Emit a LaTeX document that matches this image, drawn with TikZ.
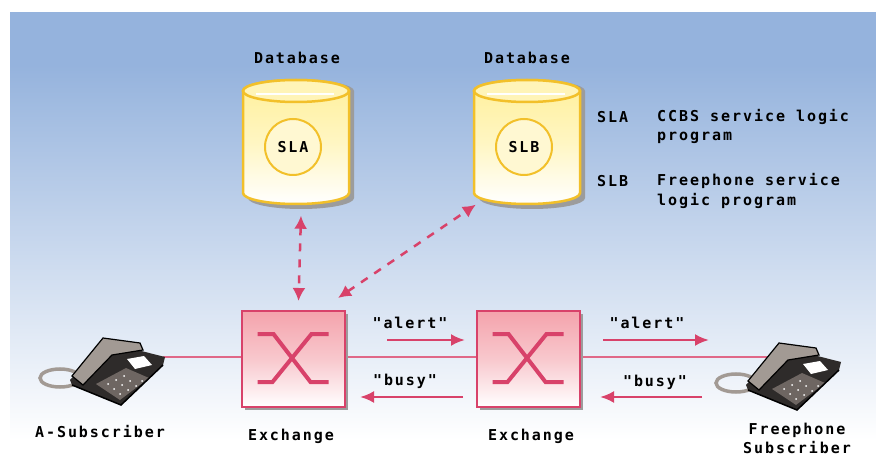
\documentclass[tikz,border=0pt]{standalone}
\usepackage{fontspec}
\newfontfamily\pixfont[LetterSpace=13]{DejaVu Sans Mono Bold}
\usetikzlibrary{arrows.meta,calc,shadows}

\definecolor{skyblue}{HTML}{95B3DD}
\definecolor{crimson}{HTML}{D8426A}
\definecolor{switchpink}{HTML}{F4A3AC}
\definecolor{dbyellow}{HTML}{FFF09A}
\definecolor{dbedge}{HTML}{F2C02A}
\definecolor{shadowgray}{HTML}{9C9C9C}
\definecolor{cordgray}{HTML}{A29A94}
\definecolor{phonedark}{HTML}{2E2B2A}
\definecolor{phonemid}{HTML}{6E6662}

\tikzset{
  lbl/.style={font=\pixfont\fontsize{15}{17}\selectfont, inner sep=0pt, text=black},
  legend/.style={lbl, anchor=west},
  exchange/.style={draw=crimson, line width=2pt, minimum width=103pt, minimum height=96pt,
    top color=switchpink, bottom color=white, middle color=switchpink!60,
    drop shadow={shadow xshift=3pt, shadow yshift=-3pt, fill=shadowgray, opacity=1}},
  dbframe/.style={minimum width=106pt, minimum height=125pt, inner sep=0pt},
  ring/.style={circle, draw=dbedge, line width=2pt, minimum size=56pt, inner sep=0pt,
    fill=dbyellow!45, font=\pixfont\fontsize{15}{17}\selectfont},
  wire/.style={crimson!80, line width=1.8pt},
  msg/.style={crimson, line width=2.5pt, -{Latex[length=14pt,width=12pt]}},
  dbquery/.style={crimson, line width=2.5pt, dash pattern=on 8pt off 8pt,
    {Latex[length=13pt,width=13pt]}-{Latex[length=13pt,width=13pt]}},
  % a database drawn as a cylinder around the origin
  pics/dbcyl/.style={code={
    \fill[shadowgray] (-48,-51) -- (-48,56) arc[start angle=180,end angle=0,x radius=53,y radius=11]
      -- (58,-51) arc[start angle=0,end angle=-180,x radius=53,y radius=11] -- cycle;
    \path[top color=dbyellow, bottom color=white, middle color=dbyellow!60, draw=dbedge, line width=2.5pt]
      (-53,-51) -- (-53,51) arc[start angle=180,end angle=0,x radius=53,y radius=11]
      -- (53,-51) arc[start angle=0,end angle=-180,x radius=53,y radius=11] -- cycle;
    \draw[dbedge, line width=2.5pt, fill=dbyellow!70] (0,-51) ellipse[x radius=53, y radius=11];
    \draw[white, line width=1.2pt] (-40,-48) -- (38,-48);
  }},
  % switching symbol inside an exchange
  pics/switchx/.style={code={
    \draw[crimson, line width=4pt, line join=miter]
      (-36,-25) -- (-20,-25) -- (17,23) -- (35,23)
      (35,-25) -- (18,-25) -- (-21,23) -- (-36,23);
  }},
  % desk telephone with its coiled cord
  pics/phone/.style={code={
    \draw[cordgray, line width=3.5pt] (-58,6) ellipse[x radius=20, y radius=9];
    \fill[phonedark] (-48,8) -- (-12,-30) -- (47,-15) -- (45,-7) -- (3,33) -- (-46,13) -- cycle;
    \fill[phonemid] (-22,12) -- (8,-4) -- (31,6) -- (2,28) -- cycle;
    \foreach \p in {(-10,12),(-2,8),(6,4),(-4,17),(4,13),(12,9),(2,22),(10,18),(18,14),(24,9)}
      \fill[white] \p circle[radius=1pt];
    \draw[black, line width=1.2pt, fill=cordgray]
      (-46,4) -- (-15,-34) -- (22,-29) -- (25,-22) -- (-6,-17) -- (-35,13) -- cycle;
    \fill[white] (9,-13) -- (26,-16) -- (34,-7) -- (17,-3) -- cycle;
    \draw[black, line width=1.5pt] (-46,13) -- (3,33) -- (45,-7);
  }}
}

\begin{document}
\begin{tikzpicture}[x=1pt,y=-1pt]
  \useasboundingbox (0,0) rectangle (876,457);

  % sky background fading towards the bottom
  \fill[skyblue] (10,12) rectangle (876,65);
  \shade[top color=skyblue, middle color=skyblue!52, bottom color=white] (10,65) rectangle (876,440);

  % databases
  \pic at (296,142) {dbcyl};
  \pic at (527,142) {dbcyl};
  \node[dbframe] (dbA) at (296,142) {};
  \node[dbframe] (dbB) at (527,142) {};
  \node[ring] (slA) at (293,147) {SLA};
  \node[ring] (slB) at (524,147) {SLB};
  \node[lbl] (dbAlbl) at (297,58) {Database};
  \node[lbl] (dbBlbl) at (527,58) {Database};

  % legend
  \node[legend] (kA) at (597,117) {SLA};
  \node[legend] (kAt1) at (657,117) {CCBS service logic};
  \node[legend] (kAt2) at (657,138) {program};
  \node[legend] (kB) at (597,181) {SLB};
  \node[legend] (kBt1) at (657,181) {Freephone service};
  \node[legend] (kBt2) at (657,201) {logic program};

  % subscriber line
  \coordinate (jackA) at (163,357);
  \coordinate (jackB) at (772,357);
  \draw[wire] (jackA) -- (jackB);

  % telephones
  \pic at (118,372) {phone};
  \pic at (794,377) {phone};
  \node[lbl] (subA) at (100,432) {A-Subscriber};
  \node[lbl, align=center] (subB) at (797,438) {Freephone\\[2pt]Subscriber};

  % exchanges
  \node[exchange] (exA) at (293.5,359) {};
  \node[exchange] (exB) at (528.5,359) {};
  \pic at (exA) {switchx};
  \pic at (exB) {switchx};
  \node[lbl] (exAlbl) at (291,436) {Exchange};
  \node[lbl] (exBlbl) at (531,436) {Exchange};

  % database queries
  \draw[dbquery] ([xshift=5pt,yshift=-11pt]dbA.south) -- ([xshift=5pt,yshift=9pt]exA.north);
  \draw[dbquery] ([xshift=-8pt,yshift=12pt]exA.north east) -- ([xshift=2pt]dbB.south west);

  % signalling messages
  \coordinate (a1s) at (387,340); \coordinate (a1e) at (465,340);
  \coordinate (b1s) at (463,397); \coordinate (b1e) at (360,397);
  \coordinate (a2s) at (603,340); \coordinate (a2e) at (709,340);
  \coordinate (b2s) at (702,397); \coordinate (b2e) at (600,397);
  \draw[msg] (a1s) -- (a1e);
  \draw[msg] (b1s) -- (b1e);
  \draw[msg] (a2s) -- (a2e);
  \draw[msg] (b2s) -- (b2e);
  \node[lbl] (alertA) at (410,323) {"alert"};
  \node[lbl] (busyA) at (405,381) {"busy"};
  \node[lbl] (alertB) at (647,323) {"alert"};
  \node[lbl] (busyB) at (655,382) {"busy"};
\end{tikzpicture}
\end{document}
